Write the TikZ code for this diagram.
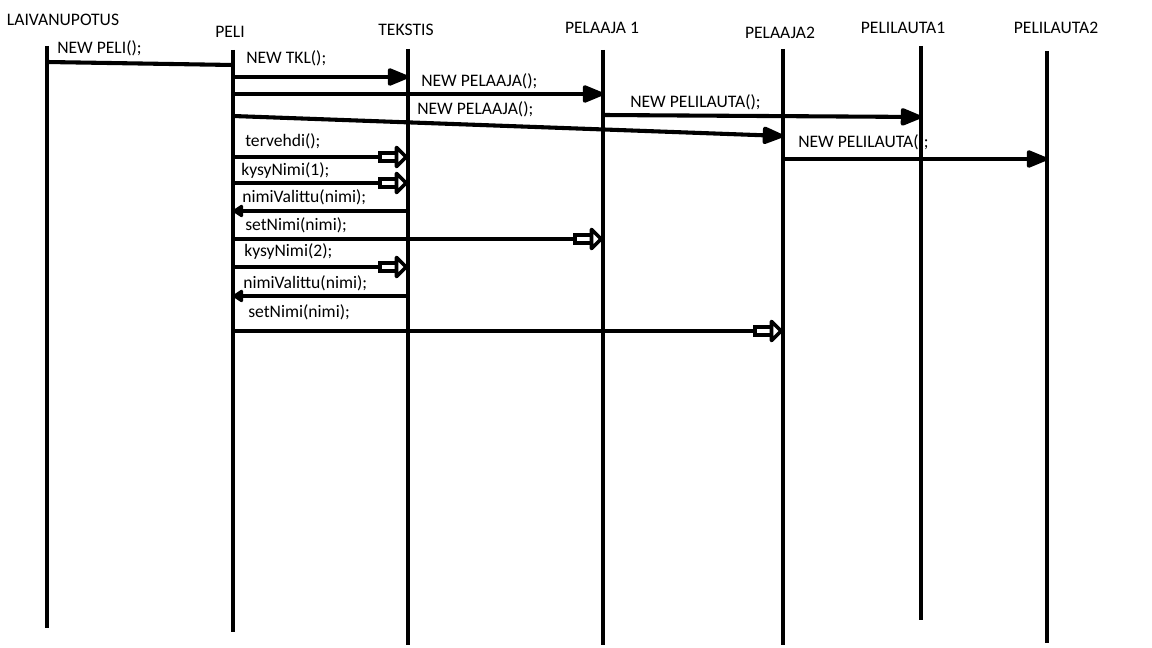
\documentclass[tikz,border=0pt]{standalone}
\usepackage{fontspec}
\setmainfont{Carlito}
\usetikzlibrary{arrows.meta, positioning}

\tikzset{
  life/.style={line width=2.6pt},
  msg/.style={line width=2.9pt},
  solidtip/.style={msg, -{Triangle[length=17pt,width=13pt,round]}},
  opentip/.style={msg, -{Rectangle[open,fill=white,length=15pt,width=9pt,sep=-2.9pt]Triangle[open,fill=white,length=10pt,width=19pt,round]}},
  backtip/.style={msg, -{Triangle[length=8pt,width=10pt,round]}},
  head/.style={inner sep=0pt, font=\fontsize{12.5}{15}\selectfont},
  lbl/.style={anchor=west, inner sep=0pt, font=\fontsize{12.5}{15}\selectfont},
}

\begin{document}
\begin{tikzpicture}[x=0.025cm, y=-0.025cm]
\useasboundingbox (0,0) rectangle (1152,648);

% headers
\node[head] (laivname) at (63,20) {LAIVANUPOTUS};
\node[head] (peliname) at (230,32) {PELI};
\node[head] (teksname) at (406,30) {TEKSTIS};
\node[head] (pel1name) at (602,28) {PELAAJA 1};
\node[head] (pel2name) at (780,33) {PELAAJA2};
\node[head] (pl1name) at (903,28) {PELILAUTA1};
\node[head] (pl2name) at (1056,28) {PELILAUTA2};

% labels
\node[lbl] (m1) at (57,48) {NEW PELI();};
\node[lbl] (m2) at (246,58) {NEW TKL();};
\node[lbl] (m3) at (421,81) {NEW PELAAJA();};
\node[lbl] (m4) at (417,109) {NEW PELAAJA();};
\node[lbl] (m5) at (630,102) {NEW PELILAUTA();};
\node[lbl] (m6) at (798,142) {NEW PELILAUTA();};
\node[lbl] (m7) at (245,141) {tervehdi();};
\node[lbl] (m8) at (241,170) {kysyNimi(1);};
\node[lbl] (m9) at (242,197) {nimiValittu(nimi);};
\node[lbl] (m10) at (245,225) {setNimi(nimi);};
\node[lbl] (m11) at (244,251) {kysyNimi(2);};
\node[lbl] (m12) at (243,283) {nimiValittu(nimi);};
\node[lbl] (m13) at (248,312) {setNimi(nimi);};

% lifelines
\foreach \n/\x/\t/\b in {laiv/47/46/628, peli/233/50/632, teks/408/49/645,
    pel1/603/50/645, pel2/783/49/645, pl1/921/46/620, pl2/1047/51/643} {
  \coordinate (\n) at (\x,\t);
  \coordinate (\n-end) at (\x,\b);
  \draw[life] (\n) -- (\n-end);
}

% messages
\draw[msg] (laiv |- 0,62) -- (peli |- 0,65);
\draw[solidtip] (peli |- 0,77) -- (teks |- 0,77);
\draw[solidtip] (peli |- 0,94) -- (pel1 |- 0,94);
\draw[solidtip] (peli |- 0,116) -- (pel2 |- 0,136);
\draw[solidtip] (pel1 |- 0,115) -- (pl1 |- 0,117);
\draw[solidtip] (pel2 |- 0,159) -- (pl2 |- 0,159);
\draw[opentip] (peli |- 0,157) -- (teks |- 0,157);
\draw[opentip] (peli |- 0,183) -- (teks |- 0,183);
\draw[backtip] (teks |- 0,211) -- (peli |- 0,211);
\draw[opentip] (peli |- 0,239) -- (pel1 |- 0,239);
\draw[opentip] (peli |- 0,267) -- (teks |- 0,267);
\draw[backtip] (teks |- 0,296) -- (peli |- 0,296);
\draw[opentip] (peli |- 0,331) -- (pel2 |- 0,331);
\end{tikzpicture}
\end{document}
